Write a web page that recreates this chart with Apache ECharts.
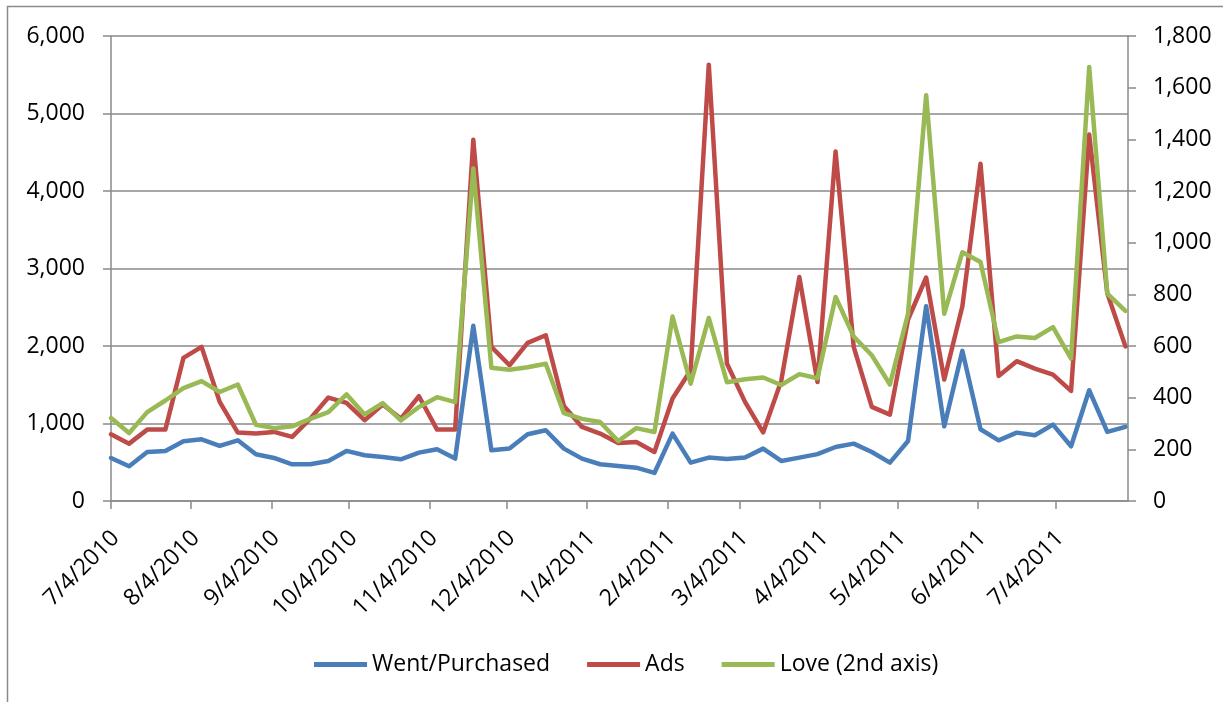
<!DOCTYPE html>
<html>
<head>
<meta charset="utf-8">
<script src="https://cdn.jsdelivr.net/npm/echarts@6/dist/echarts.min.js"></script>
<style>
  html, body { margin: 0; padding: 0; background: #fff; }
  #chart { width: 1223px; height: 702px; }
</style>
</head>
<body>
<div id="chart"></div>
<script>
// ---- data (weekly, starting 7/4/2010) ----
const startDate = '7/4/2010';
const axisEndDate = '8/1/2011';
const tickLabels = ['7/4/2010','8/4/2010','9/4/2010','10/4/2010','11/4/2010','12/4/2010',
  '1/4/2011','2/4/2011','3/4/2011','4/4/2011','5/4/2011','6/4/2011','7/4/2011'];

const went = [555,448,633,646,771,796,710,783,603,555,474,474,517,646,590,568,538,624,667,547,
  2260,654,676,861,913,676,547,474,452,430,362,870,495,560,542,560,676,517,560,605,
  697,740,633,495,775,2514,964,1937,926,783,882,848,986,706,1429,891,956];
const ads = [861,740,921,921,1847,1989,1279,883,870,891,827,1063,1335,1266,1042,1244,1063,1352,921,921,
  4660,1989,1752,2040,2139,1227,956,870,749,762,633,1322,1687,5630,1774,1279,885,1550,2890,1536,
  4510,1989,1214,1115,2342,2884,1567,2514,4351,1614,1804,1709,1631,1421,4730,2680,1995];
const love = [321,263,344,389,437,464,422,451,295,282,289,318,344,413,335,379,312,364,402,383,
  1287,516,508,518,531,340,318,306,232,282,267,714,454,709,460,471,478,449,491,475,
  790,637,564,451,725,1571,725,963,925,615,637,631,673,551,1680,803,736];

const seriesNames = ['Went/Purchased', 'Ads', 'Love (2nd axis)'];
const seriesColors = ['#4A7EBB', '#BE4B48', '#98B954'];

// ---- helpers ----
function parseMDY(s) {
  const [m, d, y] = s.split('/').map(Number);
  return Date.UTC(y, m - 1, d);
}
const DAY = 86400000;
const t0 = parseMDY(startDate);
const dayOffset = s => Math.round((parseMDY(s) - t0) / DAY);
const xMax = dayOffset(axisEndDate);
const tickOffsets = tickLabels.map(dayOffset);
const labelMap = {};
tickOffsets.forEach((v, i) => { labelMap[v] = tickLabels[i]; });
const xs = went.map((_, i) => i * 7); // weekly observations
const toPairs = arr => arr.map((v, i) => [xs[i], v]);

const FONT = 'Open Sans';
const gray = '#8a8a8a';

const chart = echarts.init(document.getElementById('chart'), null, { renderer: 'canvas' });
chart.setOption({
  animation: false,
  backgroundColor: '#fff',
  textStyle: { fontFamily: FONT },
  graphic: [{
    type: 'rect',
    shape: { x: 7.5, y: 6.5, width: 1300, height: 800 },
    style: { fill: 'none', stroke: gray, lineWidth: 1.5 },
    silent: true
  }],
  grid: { left: 111, right: 95, top: 36, bottom: 201, containLabel: false },
  legend: {
    left: 309, top: 648,
    icon: 'rect', itemWidth: 53, itemHeight: 5, itemGap: 37,
    textStyle: { fontFamily: FONT, fontSize: 23, color: '#000', padding: [0, 0, 0, 0] },
    data: seriesNames
  },
  xAxis: {
    type: 'value', min: 0, max: xMax,
    axisLine: { show: true, lineStyle: { color: gray, width: 1.5 } },
    axisTick: { show: true, length: 8, inside: false, customValues: tickOffsets,
      lineStyle: { color: gray, width: 1.5 } },
    axisLabel: {
      customValues: tickOffsets, rotate: 45, margin: 22,
      align: 'right', verticalAlign: 'top', padding: [0, 5, 0, 0],
      fontFamily: FONT, fontSize: 23, color: '#000',
      formatter: v => labelMap[Math.round(v)] || ''
    },
    splitLine: { show: false }
  },
  yAxis: [{
    type: 'value', min: 0, max: 6000, interval: 1000,
    axisLine: { show: true, lineStyle: { color: gray, width: 1.5 } },
    axisTick: { show: true, length: 8, lineStyle: { color: gray, width: 1.5 } },
    axisLabel: { margin: 26, fontFamily: FONT, fontSize: 23, color: '#000',
      formatter: v => v.toLocaleString('en-US') },
    splitLine: { show: true, lineStyle: { color: gray, width: 1.5 } }
  }, {
    type: 'value', min: 0, max: 1800, interval: 200, position: 'right',
    axisLine: { show: true, lineStyle: { color: gray, width: 1.5 } },
    axisTick: { show: true, length: 8, lineStyle: { color: gray, width: 1.5 } },
    axisLabel: { margin: 25, fontFamily: FONT, fontSize: 23, color: '#000',
      formatter: v => v.toLocaleString('en-US') },
    splitLine: { show: false }
  }],
  series: [
    { name: seriesNames[0], type: 'line', yAxisIndex: 0, data: toPairs(went) },
    { name: seriesNames[1], type: 'line', yAxisIndex: 0, data: toPairs(ads) },
    { name: seriesNames[2], type: 'line', yAxisIndex: 1, data: toPairs(love) }
  ].map((s, i) => Object.assign(s, {
    showSymbol: false, symbol: 'none',
    color: seriesColors[i],
    lineStyle: { color: seriesColors[i], width: 4.5, cap: 'round', join: 'round' },
    emphasis: { disabled: true }
  }))
});
</script>
</body>
</html>
